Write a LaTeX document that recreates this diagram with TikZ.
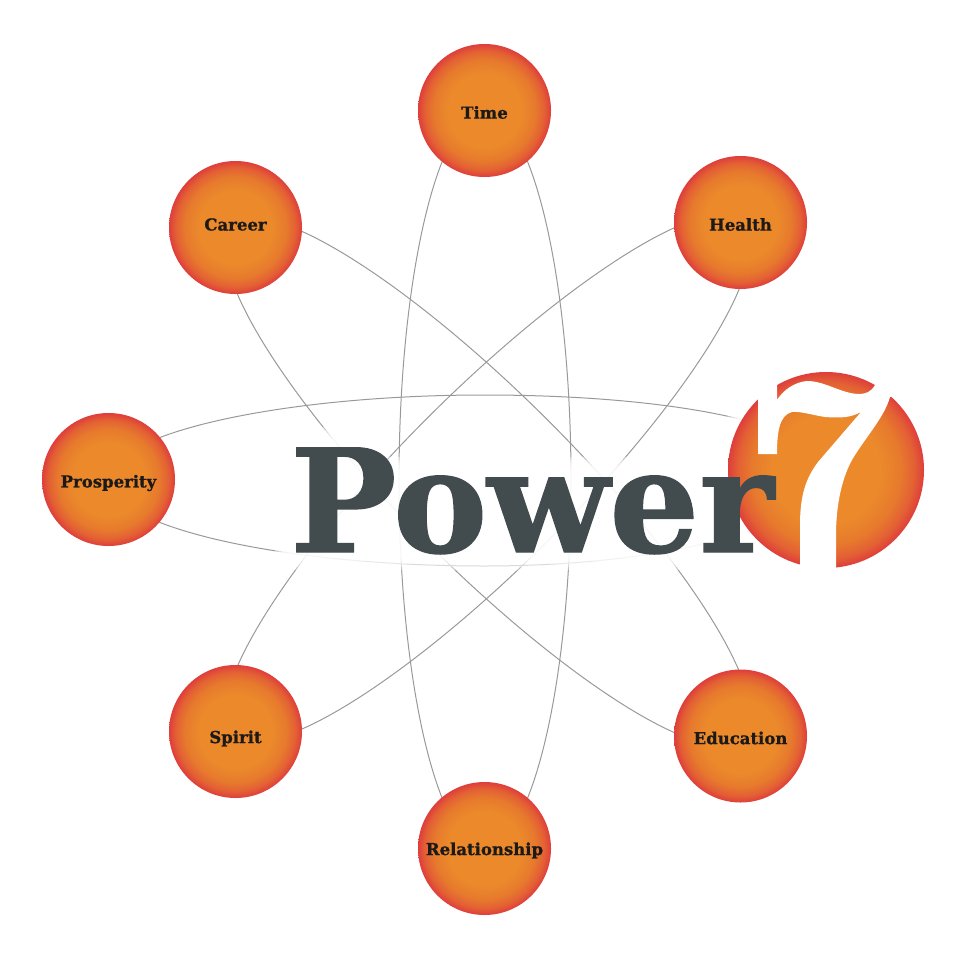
\documentclass[tikz,border=0pt]{standalone}
\usepackage{fontspec}
\setmainfont{DejaVu Serif}
\newfontfamily\slab[BoldFeatures={FakeBold=1}]{DejaVu Serif}
\usetikzlibrary{backgrounds}
\definecolor{ballorange}{HTML}{EB892B}
\definecolor{ballmid}{HTML}{E77A2D}
\definecolor{ballmidb}{HTML}{E36034}
\definecolor{ballred}{HTML}{DE3E3B}
\definecolor{linkgray}{HTML}{999999}
\definecolor{powerink}{HTML}{424B4D}
\definecolor{labelink}{HTML}{1C1A18}
\pgfdeclareradialshading{ballshade}{\pgfpoint{0bp}{0bp}}{%
 color(0bp)=(ballorange); color(14bp)=(ballorange); color(19bp)=(ballmid); color(22.5bp)=(ballmidb); color(25bp)=(ballred); color(50bp)=(ballred)}
\tikzset{
  ball/.style={circle,inner sep=0pt,minimum size=133pt,shade,shading=ballshade,
    text=labelink,font=\slab\bfseries\fontsize{16.5}{18}\selectfont},
  link/.style={draw=linkgray,line width=1pt},
  glowbox/.style={fill=white,fill opacity=0.4,rounded corners=8pt},
  glowdisc/.style={fill=white,fill opacity=0.4},
}
\newcommand{\shiftlab}[2]{\raisebox{-#1pt}[\height][\depth]{#2}}
\newcommand{\petal}[5]{%
  \begin{scope}[shift={(#3,#4)},rotate=#5]
    \draw[link] (#1.center) .. controls (-366,47.5) and (-200,86) .. (0,86)
      .. controls (200,86) and (366,47.5) .. (#2.center)
      .. controls (366,-47.5) and (200,-86) .. (0,-86)
      .. controls (-200,-86) and (-366,-47.5) .. (#1.center);
  \end{scope}}
\begin{document}
\begin{tikzpicture}[x=1pt,y=-1pt]
\useasboundingbox (0,0) rectangle (974,958);
\node[ball] (time) at (484.5,110.5) {\shiftlab{2}{Time}};
\node[ball] (career) at (235.5,227.5) {\shiftlab{-3}{Career}};
\node[ball] (health) at (740.5,222.5) {\shiftlab{2}{Health}};
\node[ball] (prosperity) at (108.5,479.5) {\shiftlab{3.5}{Prosperity}};
\node[ball] (spirit) at (235.5,731.5) {\shiftlab{7}{Spirit}};
\node[ball] (education) at (740.5,736) {\shiftlab{2}{Education}};
\node[ball] (relationship) at (484.5,848.5) {\shiftlab{2}{Relationship}};
\node[ball,minimum size=196pt] (seven) at (826,470) {};
\begin{pgfonlayer}{background}
  \petal{time}{relationship}{485}{480}{-90}
  \petal{spirit}{health}{488}{479}{45}
  \petal{career}{education}{488}{482}{-45}
  \draw[link] (prosperity.center) .. controls (108.5,433) and (284,395) .. (484,395)
     .. controls (684,395) and (826,428) .. (seven.center)
     .. controls (826,520) and (684,566) .. (484,566)
     .. controls (284,566) and (108.5,527) .. (prosperity.center);
  \foreach \e in {18,15,12,9,6}{
    \fill[glowbox] (293-\e,445-\e) -- (360+\e,445-\e) -- (360+\e,475-\e) -- (775+\e,475-\e)
      -- (775+\e,552+\e) -- (293-\e,552+\e) -- cycle;
  }
  \foreach \e in {112,109,106,103,100}{
    \fill[glowdisc] (seven.center) circle[radius=\e];
  }
\end{pgfonlayer}
% the white figure 7 cut out of the large disc
\fill[white] (758,454) -- (758,360) -- (777,360) -- (777,400)
  .. controls (783,390) and (795,382) .. (807,381)
  .. controls (825,381) and (840,393) .. (858,394)
  .. controls (866,394) and (871,392) .. (875,385)
  -- (895,365) -- (905,395) -- (890,397)
  .. controls (885,415) and (870,432) .. (855,455)
  .. controls (842,475) and (836,505) .. (836,535)
  -- (836,575) -- (800,575) -- (800,525)
  .. controls (800,495) and (806,478) .. (818,462)
  -- (861,412)
  .. controls (850,418) and (840,418) .. (825,417)
  .. controls (812,415) and (800,411) .. (792,412)
  .. controls (780,415) and (777,430) .. (777,454) -- cycle;
\node[text=powerink,font=\slab\bfseries\fontsize{143}{150}\selectfont,inner sep=0pt,anchor=base west,xscale=0.99,transform shape] (power) at (290,552) {Power};
\end{tikzpicture}
\end{document}
